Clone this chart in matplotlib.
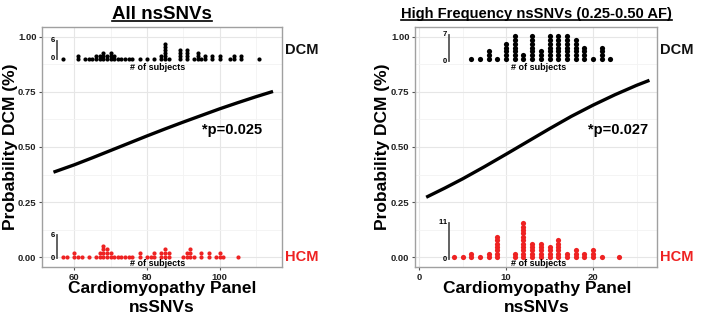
import numpy as np
import matplotlib
matplotlib.use('Agg')
import matplotlib.pyplot as plt
from matplotlib.ticker import MultipleLocator
from matplotlib.lines import Line2D

plt.rcParams['font.family'] = ['Liberation Sans', 'DejaVu Sans']
plt.rcParams['font.weight'] = 'bold'

# fitted probability curves
all_x = [54.7, 60, 65, 70, 75, 80, 85, 90, 95, 100, 105, 110, 114.3]
all_p = [0.388, 0.419, 0.451, 0.484, 0.517, 0.550, 0.582, 0.613, 0.643, 0.673, 0.701, 0.728, 0.750]
hf_x = [1, 3, 5, 7.5, 10, 12.5, 15, 17.5, 20, 22.5, 25, 26.3]
hf_p = [0.275, 0.314, 0.355, 0.410, 0.467, 0.525, 0.583, 0.639, 0.690, 0.737, 0.780, 0.800]

# dot histograms: nsSNV count -> number of subjects
all_dcm_x = [57, 61, 63, 64, 65, 66, 67, 68, 69, 70, 71, 72, 73, 74, 75, 76, 78, 80, 82,
             84, 85, 86, 89, 91, 93, 94, 95, 96, 98, 100, 103, 104, 106, 111]
all_dcm_n = [1, 2, 1, 1, 1, 2, 2, 3, 2, 3, 2, 1, 1, 1, 1, 1, 1, 1, 1,
             2, 6, 1, 4, 4, 1, 3, 1, 2, 2, 2, 1, 2, 2, 1]
all_hcm_x = [57, 58, 60, 61, 62, 64, 66, 67, 68, 69, 70, 71, 72, 73, 74, 75, 76, 78, 80,
             81, 82, 84, 85, 86, 90, 91, 92, 93, 95, 97, 99, 100, 101, 105]
all_hcm_n = [1, 1, 2, 1, 1, 1, 1, 2, 4, 3, 2, 1, 1, 1, 1, 1, 1, 2, 1,
             1, 2, 2, 3, 2, 1, 2, 3, 1, 2, 2, 1, 2, 1, 1]
hf_dcm_x = [6, 7, 8, 9, 10, 11, 12, 13, 14, 15, 16, 17, 18, 19, 20, 21, 22]
hf_dcm_n = [1, 1, 3, 1, 5, 7, 2, 7, 3, 7, 7, 7, 6, 4, 1, 4, 1]
hf_hcm_x = [4, 5, 6, 7, 8, 9, 11, 12, 13, 14, 15, 16, 17, 18, 19, 20, 21, 23]
hf_hcm_n = [1, 1, 2, 1, 2, 7, 2, 11, 5, 5, 4, 6, 2, 3, 2, 3, 1, 1]

titles = ['All nsSNVs', 'High Frequency nsSNVs (0.25-0.50 AF)']
pvals = ['*p=0.025', '*p=0.027']


def dot_stack(ax, xs, ns, base, step, color, size):
    px, py = [], []
    for x, n in zip(xs, ns):
        for i in range(n):
            px.append(x)
            py.append(base + i * step)
    ax.scatter(px, py, s=size, c=color, lw=0, zorder=3, clip_on=False)


def scale_bar(ax, x, base, top, label):
    ax.plot([x, x], [base, top], color='#555555', lw=1.3, zorder=3)
    ax.text(x, top, label + ' ', ha='right', va='center', fontsize=5.5)
    ax.text(x, base, '0 ', ha='right', va='center', fontsize=5.5)


def style(ax, xmin, xmax, xmaj):
    ax.set_xlim(xmin, xmax)
    ax.set_ylim(-0.045, 1.045)
    ax.xaxis.set_major_locator(MultipleLocator(xmaj))
    ax.xaxis.set_minor_locator(MultipleLocator(xmaj / 2))
    ax.yaxis.set_major_locator(MultipleLocator(0.25))
    ax.yaxis.set_minor_locator(MultipleLocator(0.125))
    ax.yaxis.set_major_formatter(lambda v, p: '%.2f' % v)
    ax.grid(True, which='major', color='#e6e6e6', lw=0.8)
    ax.grid(True, which='minor', color='#f3f3f3', lw=0.6)
    ax.set_axisbelow(True)
    for s in ax.spines.values():
        s.set_color('#a0a0a0')
        s.set_linewidth(1.0)
    ax.tick_params(which='major', length=2.5, width=0.8, color='#555555',
                   labelsize=6.8, pad=1.5, labelcolor='#222222')
    ax.tick_params(which='minor', length=0)


fig = plt.figure(figsize=(7.09, 3.15), dpi=100)
ax1 = fig.add_axes([0.0592, 0.1524, 0.3385, 0.762])
ax2 = fig.add_axes([0.5853, 0.1524, 0.3414, 0.762])

style(ax1, 51.1, 117.2, 20)
style(ax2, -0.46, 27.35, 10)

# left panel
ax1.plot(all_x, all_p, color='black', lw=2.4, zorder=4)
dot_stack(ax1, all_dcm_x, all_dcm_n, 0.90, 0.0137, 'black', 9)
dot_stack(ax1, all_hcm_x, all_hcm_n, 0.0, 0.0175, '#ee2222', 9)
scale_bar(ax1, 55.3, 0.90, 0.982, '6')
scale_bar(ax1, 55.3, -0.005, 0.10, '6')
ax1.text(83, 0.862, '# of subjects', ha='center', va='center', fontsize=6.5)
ax1.text(83, -0.028, '# of subjects', ha='center', va='center', fontsize=6.5)
ax1.text(103.4, 0.577, pvals[0], ha='center', va='center', fontsize=10.5)

# right panel
ax2.plot(hf_x, hf_p, color='black', lw=2.4, zorder=4)
dot_stack(ax2, hf_dcm_x, hf_dcm_n, 0.899, 0.0173, 'black', 14)
dot_stack(ax2, hf_hcm_x, hf_hcm_n, 0.0, 0.0153, '#ee2222', 14)
scale_bar(ax2, 3.5, 0.89, 1.01, '7')
scale_bar(ax2, 3.5, -0.009, 0.156, '11')
ax2.text(13.7, 0.862, '# of subjects', ha='center', va='center', fontsize=6.5)
ax2.text(13.7, -0.028, '# of subjects', ha='center', va='center', fontsize=6.5)
ax2.text(22.9, 0.579, pvals[1], ha='center', va='center', fontsize=10.5)

for ax in (ax1, ax2):
    tr = ax.get_yaxis_transform()
    ax.text(1.083, 0.94, 'DCM', transform=tr, ha='center', va='center',
            fontsize=10.5, color='#111111')
    ax.text(1.083, 0.0, 'HCM', transform=tr, ha='center', va='center',
            fontsize=10.5, color='#ee2222')

# axis labels
for cx, lx in ((0.2284, 0.0145), (0.757, 0.540)):
    fig.text(cx, 1 - 289 / 315, 'Cardiomyopathy Panel', ha='center', va='center',
             fontsize=12.5)
    fig.text(cx, 1 - 307 / 315, 'nsSNVs', ha='center', va='center', fontsize=12.5)
    fig.text(lx, 0.533, 'Probability DCM (%)', ha='center', va='center',
             rotation=90, fontsize=12.5)

# underlined titles
t1 = fig.text(0.2284, 0.955, titles[0], ha='center', va='center', fontsize=13.5)
t2 = fig.text(0.757, 0.955, titles[1], ha='center', va='center', fontsize=10.6)
fig.canvas.draw()
r = fig.canvas.get_renderer()
for t in (t1, t2):
    bb = t.get_window_extent(r).transformed(fig.transFigure.inverted())
    fig.add_artist(Line2D([bb.x0, bb.x1], [bb.y0 + 0.004, bb.y0 + 0.004],
                          transform=fig.transFigure, color='black', lw=1.2))

fig.savefig('out.png', dpi=100, facecolor='white')
